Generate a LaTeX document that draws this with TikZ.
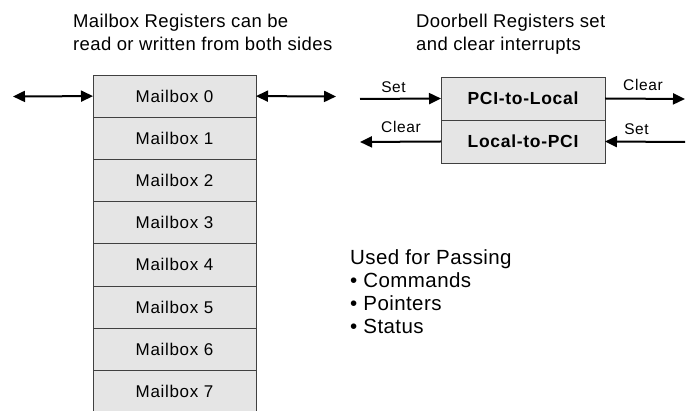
\documentclass[tikz,border=0pt]{standalone}
\usepackage{fontspec}
\setmainfont{Liberation Sans}[LetterSpace=4]
\newfontfamily\headfont{Liberation Sans}[LetterSpace=2]
\usetikzlibrary{arrows.meta}
\begin{document}
\begin{tikzpicture}[x=1pt,y=-1pt,
  mbox/.style={draw=black!75, line width=0.8pt, fill=black!10, minimum width=163pt,
    minimum height=42.2pt, inner sep=0pt, outer sep=0pt, anchor=north west,
    font=\fontsize{17}{20}\selectfont},
  dbox/.style={draw=black!75, line width=0.8pt, fill=black!10, minimum width=164pt,
    minimum height=43pt, inner sep=0pt, outer sep=0pt, anchor=north west,
    font=\fontsize{17.5}{20}\selectfont\bfseries},
  heading/.style={anchor=base west, align=left, inner sep=0pt,
    font=\headfont\fontsize{18.5}{23}\selectfont},
  lbl/.style={inner sep=0pt, anchor=base, font=\fontsize{15.5}{18}\selectfont},
  listtext/.style={anchor=base west, align=left, inner sep=0pt,
    font=\headfont\fontsize{20.5}{23.3}\selectfont},
  arr/.style={line width=2pt, -{Triangle[length=12pt,width=11pt]}},
  darr/.style={line width=2pt, {Triangle[length=12pt,width=11pt]}-{Triangle[length=12pt,width=11pt]}}
]
\useasboundingbox (0,0) rectangle (688,411);
\fill[white] (0,0) rectangle (688,411);

% headings (base anchor = baseline of last line)
\node[heading] (h1) at (73,51) {Mailbox Registers can be\\read or written from both sides};
\node[heading] (h2) at (416,51) {Doorbell Registers set\\and clear interrupts};

% mailbox stack
\foreach \i in {0,...,7} {
  \node[mbox] (mb\i) at (93,75+42.2*\i) {Mailbox \i};
}

% mailbox arrows
\coordinate (ml) at (13,96.5);
\coordinate (mr) at (336,96.5);
\draw[darr] (ml) -- (mb0.west);
\draw[darr] (mb0.east) -- (mr);

% doorbell
\node[dbox] (p2l) at (441,77) {PCI-to-Local};
\node[dbox] (l2p) at (441,120) {Local-to-PCI};

\coordinate (sl) at (360,99);
\coordinate (cr) at (685,99);
\coordinate (cl) at (360,142);
\coordinate (sr) at (685,142);
\draw[arr] (sl) -- (p2l.west);
\draw[arr] (p2l.east) -- (cr);
\draw[arr] (l2p.west) -- (cl);
\draw[arr] (sr) -- (l2p.east);

\node[lbl] (tset1) at (393.5,93) {Set};
\node[lbl] (tclr1) at (643,91) {Clear};
\node[lbl] (tclr2) at (401,133) {Clear};
\node[lbl] (tset2) at (636.5,135) {Set};

% list (base anchor = baseline of last line)
\node[listtext] (list) at (350,334) {Used for Passing\\\textbullet\ Commands\\\textbullet\ Pointers\\\textbullet\ Status};
\end{tikzpicture}
\end{document}
